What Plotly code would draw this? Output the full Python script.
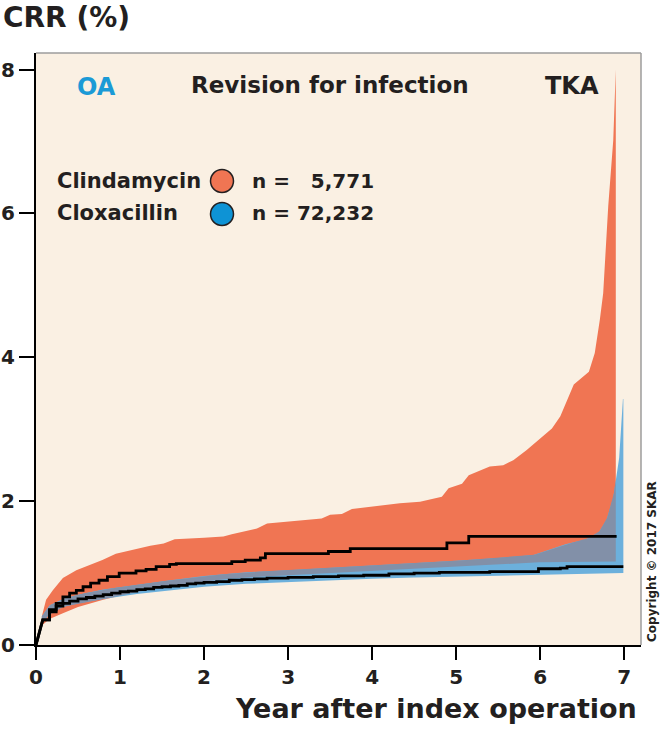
import numpy as np
import plotly.graph_objects as go

# ---------------- data ----------------
# Kaplan-Meier style cumulative revision rate (%) step curves
clinda_step_years = [0.08, 0.16, 0.24, 0.32, 0.40, 0.48, 0.56, 0.65, 0.75, 0.85, 0.99,
                     1.19, 1.31, 1.43, 1.59, 1.67, 2.33, 2.49, 2.67, 2.73, 3.48, 3.74,
                     4.89, 5.15]
clinda_crr = [0.35, 0.49, 0.58, 0.67, 0.72, 0.76, 0.81, 0.86, 0.90, 0.95, 1.00,
              1.03, 1.05, 1.09, 1.12, 1.13, 1.16, 1.18, 1.21, 1.27, 1.30, 1.34,
              1.42, 1.51]
clinda_end_year = 6.91

cloxa_step_years = [0.08, 0.16, 0.24, 0.32, 0.40, 0.50, 0.60, 0.70, 0.80, 0.90, 1.00,
                    1.10, 1.20, 1.30, 1.40, 1.50, 1.60, 1.70, 1.80, 1.90, 2.00, 2.15,
                    2.30, 2.45, 2.60, 2.75, 3.00, 3.30, 3.60, 3.90, 4.20, 4.50, 4.80,
                    5.40, 5.98, 6.24, 6.32]
cloxa_crr = [0.35, 0.46, 0.54, 0.58, 0.61, 0.64, 0.66, 0.68, 0.70, 0.72, 0.74,
             0.75, 0.77, 0.78, 0.80, 0.81, 0.82, 0.83, 0.85, 0.86, 0.87, 0.88,
             0.90, 0.91, 0.92, 0.93, 0.94, 0.95, 0.96, 0.97, 0.99, 1.00, 1.01,
             1.02, 1.06, 1.07, 1.09]
cloxa_end_year = 6.99

# Confidence bands
clinda_upper_years = [0.07, 0.12, 0.20, 0.32, 0.48, 0.67, 0.79, 0.95, 1.19, 1.36, 1.52,
                      1.65, 2.00, 2.23, 2.33, 2.51, 2.63, 2.75, 3.40, 3.50, 3.64, 3.76,
                      4.10, 4.33, 4.57, 4.83, 4.91, 5.07, 5.15, 5.40, 5.56, 5.68, 5.84,
                      6.00, 6.14, 6.24, 6.40, 6.58, 6.65, 6.71, 6.75, 6.81, 6.87, 6.90]
clinda_upper = [0.40, 0.63, 0.76, 0.93, 1.04, 1.13, 1.18, 1.27, 1.34, 1.38, 1.41,
                1.47, 1.49, 1.51, 1.54, 1.59, 1.62, 1.69, 1.76, 1.81, 1.82, 1.89,
                1.94, 1.97, 1.99, 2.06, 2.18, 2.24, 2.36, 2.48, 2.50, 2.57, 2.71,
                2.87, 3.01, 3.18, 3.62, 3.80, 4.06, 4.52, 4.89, 6.10, 7.02, 8.00]
clinda_lower_years = [0.07, 0.16, 0.32, 0.50, 0.80, 1.20, 1.60, 2.00, 2.50, 3.00, 3.50,
                      4.00, 4.50, 5.00, 5.50, 6.00, 6.50, 6.90]
clinda_lower = [0.27, 0.36, 0.44, 0.53, 0.63, 0.74, 0.82, 0.89, 0.94, 0.96, 0.99,
                1.02, 1.05, 1.08, 1.12, 1.15, 1.16, 1.16]

cloxa_upper_years = [0.07, 0.16, 0.32, 0.50, 0.80, 1.20, 1.60, 2.00, 2.50, 3.00, 3.50,
                     4.00, 4.50, 5.00, 5.50, 5.92, 6.30, 6.55, 6.70, 6.79, 6.87, 6.90,
                     6.94, 6.985, 6.99]
cloxa_upper = [0.40, 0.55, 0.64, 0.70, 0.77, 0.84, 0.90, 0.96, 1.01, 1.04, 1.07,
               1.10, 1.13, 1.17, 1.21, 1.25, 1.40, 1.47, 1.57, 1.74, 2.05, 2.30,
               2.60, 3.42, 3.42]
cloxa_lower_years = [0.07, 0.16, 0.32, 0.50, 0.80, 1.20, 1.60, 2.00, 2.50, 3.00, 3.50,
                     4.00, 4.50, 5.00, 5.50, 6.00, 6.50, 6.99]
cloxa_lower = [0.30, 0.43, 0.53, 0.58, 0.64, 0.71, 0.76, 0.81, 0.85, 0.88, 0.90,
               0.92, 0.94, 0.95, 0.96, 0.97, 0.99, 1.00]

x_ticks = [0, 1, 2, 3, 4, 5, 6, 7]
y_ticks = [0, 2, 4, 6, 8]

groups = ["Clindamycin", "Cloxacillin"]
group_n = ["n =\u00a0\u00a0\u00a05,771", "n = 72,232"]

# ---------------- styling ----------------
W, H = 662, 729
L, R, T, B = 36, 21, 53, 84
PW, PH = W - L - R, H - T - B
FONT = "DejaVu Sans"
DARK = "#231F20"
ORANGE = "#F07553"
BLUE = "#6CB0DC"
OVERLAP = "#8290A8"
BG = "#FAF0E3"
OA_BLUE = "#1B9AD6"
DOT_BLUE = "#0E93D5"


def pxx(x):
    return (x - L) / PW


def pxy(y):
    return (H - B - y) / PH


def step_path(years, vals, end):
    xs, ys = [0.0], [0.0]
    for i, (t, v) in enumerate(zip(years, vals)):
        if i > 0:
            xs.append(t)
            ys.append(ys[-1])
        xs.append(t)
        ys.append(v)
    xs.append(end)
    ys.append(ys[-1])
    return xs, ys


fig = go.Figure()

# orange band
fig.add_trace(go.Scatter(
    x=list(clinda_upper_years) + list(clinda_lower_years[::-1]),
    y=list(clinda_upper) + list(clinda_lower[::-1]),
    fill="toself", fillcolor=ORANGE, line=dict(width=0), mode="lines",
    hoverinfo="skip"))
# blue band
fig.add_trace(go.Scatter(
    x=list(cloxa_upper_years) + list(cloxa_lower_years[::-1]),
    y=list(cloxa_upper) + list(cloxa_lower[::-1]),
    fill="toself", fillcolor=BLUE, line=dict(width=0), mode="lines",
    hoverinfo="skip"))

# overlap of the two bands
lo_x = max(clinda_lower_years[0], cloxa_lower_years[0])
hi_x = min(clinda_upper_years[-1], cloxa_upper_years[-1])
grid = np.union1d(np.concatenate([clinda_upper_years, clinda_lower_years,
                                  cloxa_upper_years, cloxa_lower_years]),
                  np.linspace(lo_x, hi_x, 600))
grid = grid[(grid >= lo_x) & (grid <= hi_x)]
ov_lo = np.maximum(np.interp(grid, clinda_lower_years, clinda_lower),
                   np.interp(grid, cloxa_lower_years, cloxa_lower))
ov_hi = np.minimum(np.interp(grid, clinda_upper_years, clinda_upper),
                   np.interp(grid, cloxa_upper_years, cloxa_upper))
ov_hi = np.maximum(ov_hi, ov_lo)
fig.add_trace(go.Scatter(
    x=np.concatenate([grid, grid[::-1]]),
    y=np.concatenate([ov_hi, ov_lo[::-1]]),
    fill="toself", fillcolor=OVERLAP, line=dict(width=0), mode="lines",
    hoverinfo="skip"))

# KM lines
for yrs, vals, end in [(clinda_step_years, clinda_crr, clinda_end_year),
                       (cloxa_step_years, cloxa_crr, cloxa_end_year)]:
    xs, ys = step_path(yrs, vals, end)
    fig.add_trace(go.Scatter(x=xs, y=ys, mode="lines",
                             line=dict(color="black", width=2.8),
                             hoverinfo="skip"))


def ann(text, x, y, size, xanchor="left", color=DARK, angle=0):
    return dict(text=text, x=pxx(x), y=pxy(y), xref="paper", yref="paper",
                xanchor=xanchor, yanchor="middle", showarrow=False,
                textangle=angle,
                font=dict(family=FONT, size=size, color=color, weight="bold"))


annotations = [
    ann("CRR (%)", 1, 17, 28),
    ann("OA", 75, 87, 24, color=OA_BLUE),
    ann("Revision for infection", 330, 85, 23, xanchor="center"),
    ann("TKA", 543, 86, 24),
    ann(groups[0], 55, 181, 21),
    ann(groups[1], 55, 213, 21),
    ann(group_n[0], 376, 181, 20, xanchor="right"),
    ann(group_n[1], 376, 213, 20, xanchor="right"),
    ann("Copyright © 2017 SKAR", 652, 561, 12, xanchor="center", angle=-90),
    ann("Year after index operation", 639, 708, 27, xanchor="right"),
]

shapes = [
    dict(type="line", xref="paper", yref="paper", x0=0, x1=1, y0=1, y1=1,
         line=dict(color="#9C9C9C", width=1.5)),
    dict(type="line", xref="paper", yref="paper", x0=1, x1=1, y0=0, y1=1,
         line=dict(color="#9C9C9C", width=1.5)),
]
for cy, col in [(181, ORANGE), (214, DOT_BLUE)]:
    shapes.append(dict(type="circle", xref="paper", yref="paper",
                       xsizemode="pixel", ysizemode="pixel",
                       xanchor=pxx(222), yanchor=pxy(cy),
                       x0=-11.5, x1=11.5, y0=-11.5, y1=11.5,
                       fillcolor=col, line=dict(color=DARK, width=1.5)))

tickfont = dict(family=FONT, size=20, color=DARK, weight="bold")
fig.update_layout(
    width=W, height=H,
    margin=dict(l=L, r=R, t=T, b=B, pad=0, autoexpand=False),
    paper_bgcolor="white", plot_bgcolor=BG,
    showlegend=False, hovermode=False,
    annotations=annotations, shapes=shapes,
    xaxis=dict(range=[0, 7.2], tickvals=x_ticks, ticks="outside", ticklen=13,
               tickwidth=2, tickcolor="black", showline=True, linecolor="black",
               linewidth=2, showgrid=False, zeroline=False, tickfont=tickfont,
               automargin=False),
    yaxis=dict(range=[0, 8.23], tickvals=y_ticks, ticks="outside", ticklen=15,
               tickwidth=2, tickcolor="black", showline=True, linecolor="black",
               linewidth=2, showgrid=False, zeroline=False, tickfont=tickfont,
               automargin=False),
)

fig.write_html("out.html",
               config={"displayModeBar": False, "staticPlot": True},
               post_script="document.body.style.margin='0px';"
                           "document.body.style.overflow='hidden';")
